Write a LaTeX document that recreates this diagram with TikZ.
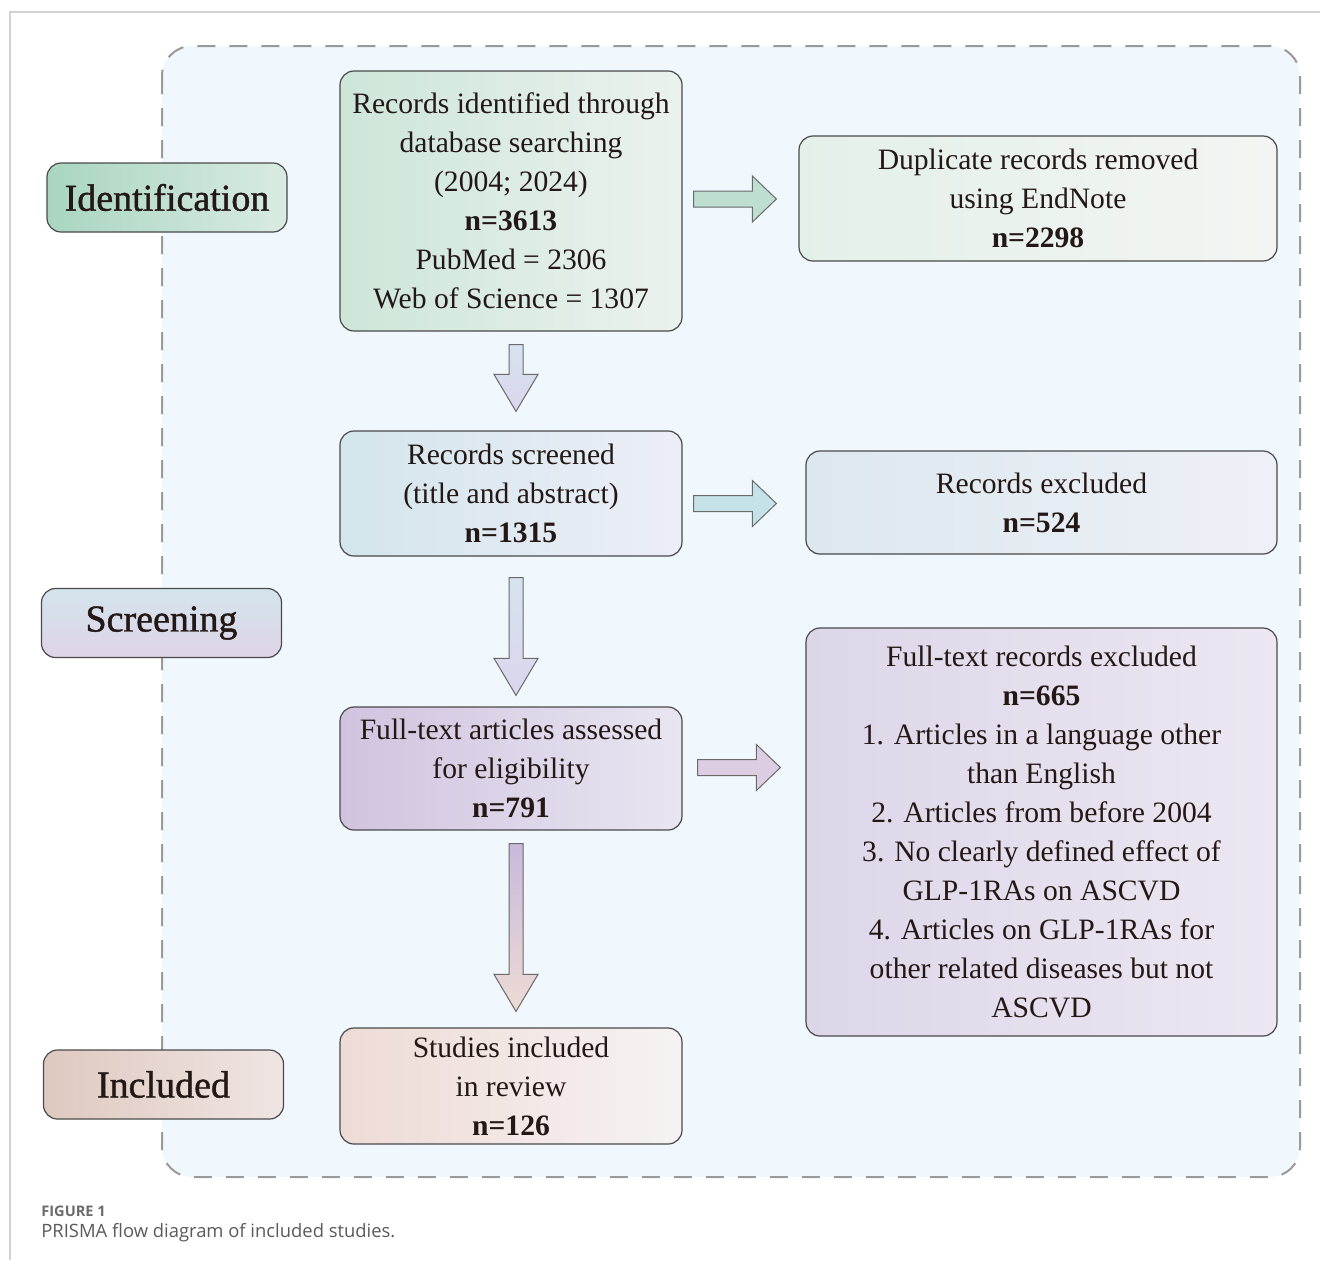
\documentclass[tikz,border=0pt]{standalone}
\usepackage{fontspec}
\setmainfont{Liberation Serif}
\newfontfamily\stagefont{Liberation Serif}[FakeBold=1.1]
\newfontfamily\capfont{Open Sans}
\usetikzlibrary{calc}

% Colours
\definecolor{ink}{HTML}{231815}
\definecolor{boxline}{HTML}{4A4A4A}
\definecolor{arrowline}{HTML}{6A6A6A}
\definecolor{panelfill}{HTML}{F0F7FD}
\definecolor{paneldash}{HTML}{9A9A9A}
\definecolor{framegray}{HTML}{D2D2D2}
\definecolor{capgray}{HTML}{5A5A5A}
\definecolor{idL}{HTML}{A9D6C0}   \definecolor{idR}{HTML}{D9EBE1}
\definecolor{scT}{HTML}{D3E4EC}   \definecolor{scB}{HTML}{DFD4E8}
\definecolor{inL}{HTML}{DEC9C0}   \definecolor{inR}{HTML}{F0E5E3}
\definecolor{recL}{HTML}{CDE6D8}  \definecolor{recR}{HTML}{EBF2EE}
\definecolor{scrL}{HTML}{D4E5EC}  \definecolor{scrR}{HTML}{ECEEF7}
\definecolor{fullL}{HTML}{D1C3DF} \definecolor{fullR}{HTML}{E8E5F1}
\definecolor{inclL}{HTML}{EEDBD5} \definecolor{inclR}{HTML}{F6F2F3}
\definecolor{dupL}{HTML}{E3F0E8}  \definecolor{dupR}{HTML}{F3F5F3}
\definecolor{exL}{HTML}{DCE8EE}   \definecolor{exR}{HTML}{EEF0F7}
\definecolor{ftL}{HTML}{DCD6E9}   \definecolor{ftR}{HTML}{EDE7F2}
\definecolor{arrA}{HTML}{BEDFD0}
\definecolor{arrB}{HTML}{C4E2E7}
\definecolor{arrC}{HTML}{DCCDE3}
\definecolor{dnA}{HTML}{D6E3F0}   \definecolor{dnB}{HTML}{DAD6EC}
\definecolor{dnC}{HTML}{C8B9DB}

\tikzset{
  box/.style={draw=boxline, line width=0.6pt, rounded corners=7pt, align=center,
    inner sep=0pt, text=ink, font=\fontsize{14.8}{19.5}\selectfont},
  stage/.style={box, font=\stagefont\fontsize{19}{22}\selectfont,
    minimum width=120pt, minimum height=34.5pt},
  blockline/.style={draw=arrowline, line width=0.5pt, line join=miter},
}

% Block arrows between two coordinates
\newcommand{\rightblock}[3]{%
  \path[blockline, fill=#3] let \p1=(#1), \p2=(#2) in
    (\x1,\y1+4pt) -- (\x2-12pt,\y1+4pt) -- (\x2-12pt,\y1+11.5pt) -- (\x2,\y1)
    -- (\x2-12pt,\y1-11.5pt) -- (\x2-12pt,\y1-4pt) -- (\x1,\y1-4pt) -- cycle;}
\newcommand{\downblock}[4]{%
  \path[blockline, top color=#3, bottom color=#4] let \p1=(#1), \p2=(#2) in
    (\x1-3.5pt,\y1) -- (\x1-3.5pt,\y2+18.5pt) -- (\x1-11pt,\y2+18.5pt) -- (\x1,\y2)
    -- (\x1+11pt,\y2+18.5pt) -- (\x1+3.5pt,\y2+18.5pt) -- (\x1+3.5pt,\y1) -- cycle;}

\begin{document}
\begin{tikzpicture}[x=0.5pt, y=-0.5pt]
\useasboundingbox (0,0) rectangle (1320,1260);

% Page frame and dashed panel
\draw[framegray, line width=0.8pt] (10,1260) -- (10,12) -- (1320,12);
\draw[paneldash, fill=panelfill, line width=1pt, dash pattern=on 9pt off 7pt,
  rounded corners=15pt] (162,46) rectangle (1300,1177);

% Stage labels
\node[stage, left color=idL, right color=idR] (ident) at (167,197.5) {Identification};
\node[stage, top color=scT, bottom color=scB] (screen) at (161.5,623) {Screening};
\node[stage, left color=inL, right color=inR] (included) at (163.5,1084.5) {Included};

% Main column
\node[box, minimum width=171pt, minimum height=130pt, left color=recL, right color=recR]
  (rec) at (511,201) {Records identified through\\database searching\\(2004; 2024)\\
  \textbf{n=3613}\\PubMed = 2306\\Web of Science = 1307};
\node[box, minimum width=171pt, minimum height=62.5pt, left color=scrL, right color=scrR]
  (scr) at (511,493.5) {Records screened\\(title and abstract)\\\textbf{n=1315}};
\node[box, minimum width=171pt, minimum height=61.5pt, left color=fullL, right color=fullR]
  (full) at (511,768.5) {Full-text articles assessed\\for eligibility\\\textbf{n=791}};
\node[box, minimum width=171pt, minimum height=58pt, left color=inclL, right color=inclR]
  (incl) at (511,1086) {Studies included\\in review\\\textbf{n=126}};

% Side column
\node[box, minimum width=239pt, minimum height=62.5pt, left color=dupL, right color=dupR]
  (dup) at (1038,198.5) {Duplicate records removed\\using EndNote\\\textbf{n=2298}};
\node[box, minimum width=235.5pt, minimum height=51.5pt, left color=exL, right color=exR]
  (excl) at (1041.5,502.5) {Records excluded\\\textbf{n=524}};
\node[box, minimum width=235.5pt, minimum height=204pt, left color=ftL, right color=ftR]
  (ftex) at (1041.5,832) {Full-text records excluded\\\textbf{n=665}\\
  1. Articles in a language other\\than English\\2. Articles from before 2004\\
  3. No clearly defined effect of\\GLP-1RAs on ASCVD\\4. Articles on GLP-1RAs for\\
  other related diseases but not\\ASCVD};

% Arrow ends
\coordinate (a1s) at ($(rec.east)+(11,-2)$);
\coordinate (a1e) at ($(a1s -| dup.west)+(-22,0)$);
\coordinate (a2s) at ($(scr.east)+(11,10)$);
\coordinate (a2e) at ($(a2s -| excl.west)+(-29,0)$);
\coordinate (a3s) at ($(full.east)+(15,-1)$);
\coordinate (a3e) at ($(a3s -| ftex.west)+(-25,0)$);
\coordinate (d1s) at ($(rec.south)+(5,13)$);
\coordinate (d1e) at ($(scr.north)+(5,-19)$);
\coordinate (d2s) at ($(scr.south)+(5,21)$);
\coordinate (d2e) at ($(full.north)+(5,-11)$);
\coordinate (d3s) at ($(full.south)+(5,13)$);
\coordinate (d3e) at ($(incl.north)+(5,-16)$);

% Draw the arrows
\foreach \s\e\c in {a1s/a1e/arrA, a2s/a2e/arrB, a3s/a3e/arrC} {
  \rightblock{\s}{\e}{\c}
}
\downblock{d1s}{d1e}{dnA}{dnB}
\downblock{d2s}{d2e}{dnA}{dnB}
\downblock{d3s}{d3e}{dnC}{inclL}

% Caption
\node[anchor=base west, inner sep=0pt, text=capgray!90,
  font=\capfont\bfseries\fontsize{7.3}{9}\selectfont] (figno) at (41,1216) {FIGURE 1};
\node[anchor=base west, inner sep=0pt, text=capgray,
  font=\capfont\fontsize{9.2}{11}\selectfont] (figcap) at (41,1237)
  {PRISMA flow diagram of included studies.};
\end{tikzpicture}
\end{document}
